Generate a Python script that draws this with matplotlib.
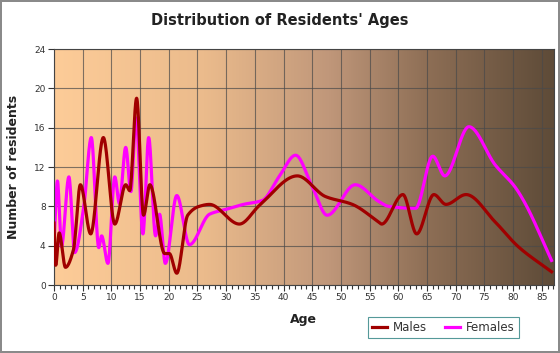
import numpy as np
import matplotlib
matplotlib.use("Agg")
import matplotlib.pyplot as plt
from matplotlib.colors import LinearSegmentedColormap

# values
male_age = [0, 0.3, 0.9, 2.0, 3.4, 4.6, 6.4, 8.6, 10.6, 12.5, 13.2, 14.4, 15.6, 16.7,
            19.3, 20.1, 21.4, 23.3, 25.3, 27.1, 32.3, 35.8, 42.4, 47.3, 52.0, 56.6,
            57.1, 60.8, 63.2, 66.2, 68.3, 71.8, 76.9, 80.9, 86.7]
male_val = [6.3, 2.0, 5.3, 1.8, 3.6, 10.2, 5.2, 15.0, 6.2, 10.2, 9.6, 19.0, 7.1, 10.2,
            3.2, 3.2, 1.2, 7.1, 8.0, 8.2, 6.2, 8.1, 11.1, 9.0, 8.2, 6.4,
            6.2, 9.2, 5.2, 9.2, 8.2, 9.2, 6.4, 3.9, 1.35]

female_age = [0, 0.6, 1.3, 2.6, 3.6, 5.2, 6.5, 7.8, 8.3, 9.4, 10.6, 11.4, 12.5, 13.4,
              14.3, 15.5, 16.5, 17.7, 18.4, 19.4, 21.4, 23.6, 27.1, 30.0, 33.0, 36.3,
              39.2, 42.1, 45.0, 47.6, 52.5, 56.6, 58.3, 63.0, 66.0, 68.1, 72.3, 76.9,
              80.3, 82.1, 86.7]
female_val = [4.0, 10.6, 3.9, 11.0, 3.3, 8.0, 15.0, 3.8, 5.0, 2.2, 11.0, 8.3, 14.0, 9.5,
              17.0, 5.2, 15.0, 5.0, 7.2, 2.2, 9.1, 4.1, 7.2, 7.7, 8.2, 8.6,
              11.0, 13.2, 10.0, 7.1, 10.2, 8.5, 8.0, 7.8, 13.1, 11.1, 16.1, 12.2,
              10.0, 8.3, 2.5]

x_ticks = list(range(0, 90, 5))
y_ticks = list(range(0, 28, 4))


def smooth(xs, ys, n=1500):
    # monotone cubic (pchip style) curve through the read points, no overshoot
    x = np.asarray(xs, float)
    y = np.asarray(ys, float)
    h = np.diff(x)
    d = np.diff(y) / h
    m = np.zeros_like(y)
    for i in range(1, len(x) - 1):
        if d[i - 1] * d[i] > 0:
            w1 = 2 * h[i] + h[i - 1]
            w2 = h[i] + 2 * h[i - 1]
            m[i] = (w1 + w2) / (w1 / d[i - 1] + w2 / d[i])
    m[0] = d[0]
    m[-1] = d[-1]
    xx = np.linspace(x[0], x[-1], n)
    idx = np.clip(np.searchsorted(x, xx) - 1, 0, len(x) - 2)
    hh = h[idx]
    t = (xx - x[idx]) / hh
    h00 = 2 * t**3 - 3 * t**2 + 1
    h10 = t**3 - 2 * t**2 + t
    h01 = -2 * t**3 + 3 * t**2
    h11 = t**3 - t**2
    yy = h00 * y[idx] + h10 * hh * m[idx] + h01 * y[idx + 1] + h11 * hh * m[idx + 1]
    return xx, yy


fig = plt.figure(figsize=(5.6, 3.53), dpi=100)
fig.patch.set_facecolor("white")
fig.patch.set_edgecolor("#8a8a8a")
fig.patch.set_linewidth(1.5)

ax = fig.add_axes([0.0964, 0.1926, 0.8926, 0.6684])
xmax = 87.1

cmap = LinearSegmentedColormap.from_list(
    "bg", [(0.0, "#fdcc98"), (0.3, "#ebbb8c"), (0.55, "#c0977a"),
           (0.75, "#8d6e55"), (1.0, "#5e4b38")])
ax.imshow(np.linspace(0, 1, 256)[None, :], cmap=cmap, aspect="auto",
          extent=[0, xmax, 0, 24], zorder=0)

ax.set_xlim(0, xmax)
ax.set_ylim(0, 24)
ax.set_xticks(x_ticks)
ax.set_xticks(range(0, 88), minor=True)
ax.set_yticks(y_ticks)
ax.grid(True, which="major", color="#4a4a4a", linewidth=0.8, alpha=0.7, zorder=1)
ax.tick_params(which="both", direction="out", colors="#333333", labelsize=6.5,
               length=4, width=0.8, pad=2)
ax.tick_params(which="minor", length=3)
for s in ax.spines.values():
    s.set_color("#444444")
    s.set_linewidth(0.8)

mx, my = smooth(male_age, male_val)
fx, fy = smooth(female_age, female_val)
ax.plot(mx, my, color="#a00000", linewidth=2.3, label="Males", zorder=3)
ax.plot(fx, fy, color="#ff00ff", linewidth=2.3, label="Females", zorder=2)

fig.text(0.5, 0.942, "Distribution of Residents' Ages", ha="center", va="center",
         fontsize=10.5, fontweight="bold", color="#222222")
ax.set_xlabel("Age", fontsize=9, fontweight="bold", color="#222222", labelpad=8)
ax.set_ylabel("Number of residents", fontsize=9, fontweight="bold", color="#222222",
              labelpad=10)

leg = fig.legend(loc="center", bbox_to_anchor=(0.792, 0.072),
                 ncol=2, fontsize=8.5, frameon=True, fancybox=False, handlelength=1.3,
                 handletextpad=0.5, columnspacing=1.5, borderpad=0.35)
leg.get_frame().set_edgecolor("#2a8080")
leg.get_frame().set_linewidth(0.8)
for t in leg.get_texts():
    t.set_color("#333333")

fig.savefig("out.png", dpi=100)
